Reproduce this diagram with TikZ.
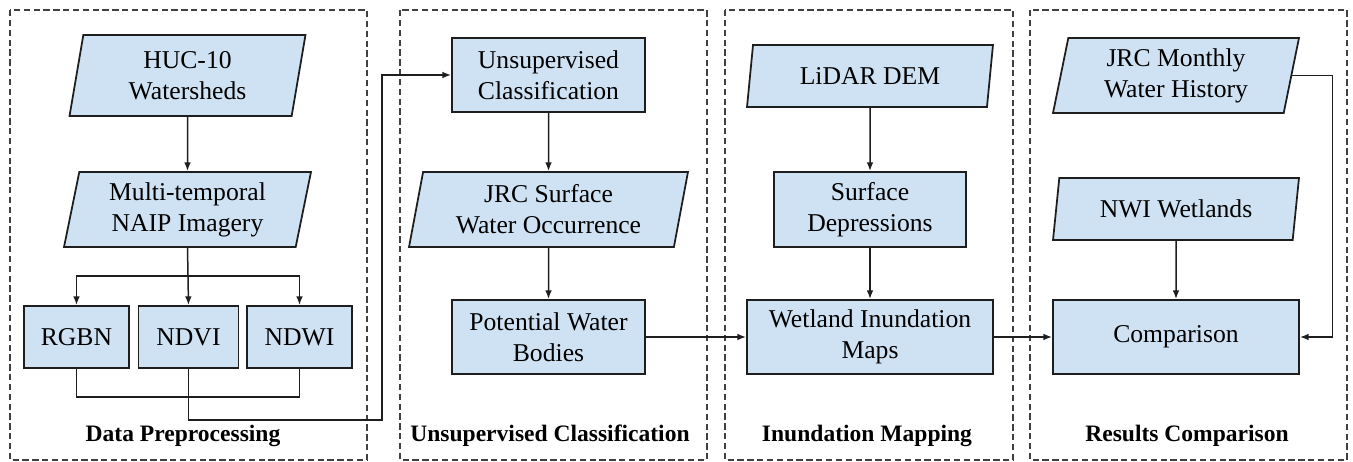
\documentclass[tikz,border=0pt]{standalone}
\usepackage{fontspec}
\setmainfont{Liberation Serif}
\usetikzlibrary{shapes.geometric, arrows.meta, positioning}
\definecolor{boxblue}{RGB}{207,226,243}
\definecolor{edge}{RGB}{30,30,30}

\begin{document}
\begin{tikzpicture}[x=0.02cm,y=-0.02cm,
	proc/.style={draw=edge,fill=boxblue,line width=1pt,align=center,inner sep=2pt,font=\fontsize{14.6}{17.6}\selectfont},
	data/.style={proc,trapezium,trapezium left angle=76,trapezium right angle=104,trapezium stretches body},
	panel/.style={draw=edge!85,dash pattern=on 3.6pt off 2pt,line width=0.7pt},
	title/.style={font=\fontsize{13.4}{16}\selectfont\bfseries},
	line/.style={draw=edge,line width=0.85pt},
	arr/.style={line,-{Latex[length=5pt,width=3.8pt]}}]
		\useasboundingbox (0,0) rectangle (1353,462);
		\draw [panel] (10,10) rectangle (367,460);
		\draw [panel] (400,10) rectangle (707,460);
		\draw [panel] (725,10) rectangle (1013,460);
		\draw [panel] (1030,10) rectangle (1347,460);
		\node [title] (t1) at (183,436) {Data Preprocessing};
		\node [title] (t2) at (550,436) {Unsupervised Classification};
		\node [title] (t3) at (867,436) {Inundation Mapping};
		\node [title] (t4) at (1187,436) {Results Comparison};

		\node [data,minimum width=4.72cm,minimum height=1.62cm] (huc) at (187.5,75.5) {HUC-10\\Watersheds};
		\node [data,minimum width=4.94cm,minimum height=1.5cm] (naip) at (187.5,209.5) {Multi-temporal\\NAIP Imagery};
		\node [proc,minimum width=2.1cm,minimum height=1.24cm] (rgbn) at (76.5,337) {RGBN};
		\node [proc,minimum width=2cm,minimum height=1.24cm] (ndvi) at (188.5,337) {NDVI};
		\node [proc,minimum width=2.1cm,minimum height=1.24cm] (ndwi) at (299.5,337) {NDWI};

		\node [proc,minimum width=3.86cm,minimum height=1.48cm] (unsup) at (548.5,75) {Unsupervised\\Classification};
		\node [data,minimum width=5.58cm,minimum height=1.5cm] (jrcsw) at (548.5,209.5) {JRC Surface\\Water Occurrence};
		\node [proc,minimum width=3.86cm,minimum height=1.48cm] (pwb) at (548.5,337) {Potential Water\\Bodies};

		\node [data,minimum width=4.92cm,minimum height=1.24cm] (lidar) at (870,76) {LiDAR DEM};
		\node [proc,minimum width=3.84cm,minimum height=1.5cm] (surf) at (870,209.5) {Surface\\Depressions};
		\node [proc,minimum width=4.92cm,minimum height=1.48cm] (wim) at (870,337) {Wetland Inundation\\Maps};

		\node [data,minimum width=4.92cm,minimum height=1.5cm] (jrcm) at (1176,75.5) {JRC Monthly\\Water History};
		\node [data,minimum width=4.92cm,minimum height=1.24cm] (nwi) at (1176,209) {NWI Wetlands};
		\node [proc,minimum width=4.92cm,minimum height=1.48cm] (comp) at (1176,337) {Comparison};

		\coordinate (split) at (188,276);
		\coordinate (bend) at (382,420);
		\draw [arr] (huc.south) -- (naip.north);
		\draw [line] (naip.south) -- (split);
		\draw [arr] (split) -- (ndvi.north);
		\draw [arr] (split) -| (rgbn.north);
		\draw [arr] (split) -| (ndwi.north);
		\draw [line] (rgbn.south) -- ++(0,28) -| (ndwi.south);
		\draw [arr] (ndvi.south) |- (bend) |- (unsup.west);

		\draw [arr] (unsup) -- (jrcsw);
		\draw [arr] (jrcsw) -- (pwb);
		\draw [arr] (pwb) -- (wim);
		\draw [arr] (lidar) -- (surf);
		\draw [arr] (surf) -- (wim);
		\draw [arr] (wim) -- (comp);
		\draw [arr] (nwi) -- (comp);
		\draw [arr] (jrcm.east) -- ++(40,0) |- (comp.east);
\end{tikzpicture}
\end{document}
